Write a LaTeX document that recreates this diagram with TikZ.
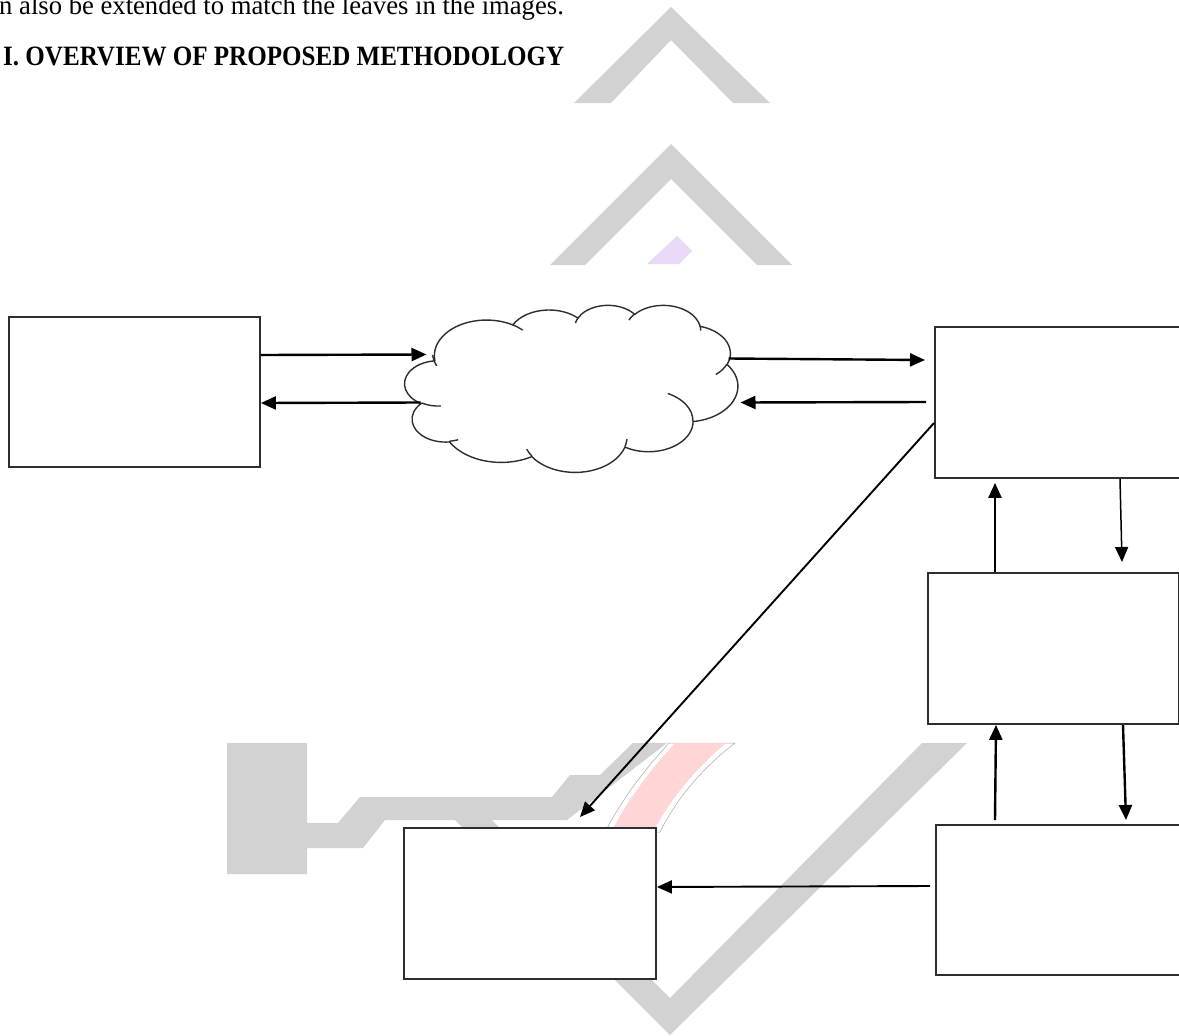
\documentclass[tikz,border=0pt]{standalone}
\usepackage{fontspec}
\setmainfont{Liberation Serif}
\usetikzlibrary{arrows.meta,calc}
\begin{document}
\begin{tikzpicture}[x=1pt,y=-1pt,
  blk/.style={draw=ink,line width=1.9pt,fill=white,inner sep=0pt,anchor=north west},
  flow/.style={line width=2.4pt,-{Triangle[length=15pt,width=13pt]}},
  thin flow/.style={flow,line width=1.9pt},
  carc/.style n args={4}{x radius=#1,y radius=#2,start angle={atan2(#1*sin(#3),#2*cos(#3))},
    delta angle={#4+Mod(atan2(#1*sin(#3+#4),#2*cos(#3+#4))-atan2(#1*sin(#3),#2*cos(#3))-#4+180,360)-180}}]
\definecolor{ink}{HTML}{2E2E2E}\definecolor{wm}{HTML}{D2D2D2}\definecolor{wmred}{HTML}{FFD5D5}\definecolor{wmvio}{HTML}{E8D9F8}
\clip (0,0) rectangle (1179,1036);\fill[white] (0,0) rectangle (1179,1036);
% page text above the figure
\node[anchor=base west,inner sep=0pt,font=\fontsize{27}{30}\selectfont,xscale=.987,transform shape] (prev) at (-1,14) {n also be extended to match the leaves in the images.};
\node[anchor=base west,inner sep=0pt,font=\bfseries\fontsize{28}{30}\selectfont,xscale=.895,transform shape] (head) at (3,65) {I. OVERVIEW OF PROPOSED METHODOLOGY};
% watermark
\fill[wm] (574,103)--(671,7)--(770,103)--(733,103)--(671,40)--(611,103)--cycle;
\fill[wm] (550,265)--(671,144)--(792,265)--(757,265)--(671,179)--(585,265)--cycle;
\fill[wmvio] (677,236)--(692,251)--(679,264)--(647,264)--cycle;
\fill[wm] (227,743)--(307,743)--(307,823)--(338,823)--(360,797)--(552,797)--(570,775)--(600,775)--(633,743)--(667,743)--(567,820)--(385,820)--(363,848)--(307,848)--(307,874)--(227,874)--cycle;
\draw[wm!80!black,line width=.5pt,fill=white] (669,743) .. controls (640,775) and (622,800) .. (605,832)--(660,832) .. controls (676,800) and (700,770) .. (735,743)--cycle;
\fill[wmred] (675,743) .. controls (646,775) and (628,800) .. (611,832)--(653,832) .. controls (670,800) and (694,770) .. (726,743)--cycle;
\fill[wm] (455,820)--(670,1035)--(967,743)--(922,743)--(670,998)--(492,820)--cycle;
% blocks
\node[blk,minimum width=251pt,minimum height=150pt] (client) at (8,316) {};
\node[inner sep=0pt,minimum width=333pt,minimum height=167pt] (net) at (571.5,388.5) {};
\begin{scope}[shift={(net.north west)},xscale=.7708,yscale=.3866,draw=ink,line width=1.4pt]
\draw[fill=white] (39,143.7) \foreach \rx/\ry/\sa/\da in {67.53/91.90/-190.4875/123.7805,53.33/72.67/-144.1024/89.9452,43.65/59.45/-145.8079/99.7230,48.57/65.95/-130.9861/117.2417,53.33/72.73/-78.7089/109.0269,67.75/92.20/-46.2673/130.2690,57.85/78.67/0.6250/114.0333,67.52/92.15/22.4516/115.1726,77.20/105.43/66.2426/75.7110,43.60/59.18/-274.9421/146.7356,43.45/59.45/-246.8285/152.5189}{ arc[carc={\rx}{\ry}{\sa}{\da}] } -- cycle;
\foreach \x/\y/\rx/\ry/\sa/\da in {46.93/261.77/43.45/59.45/86.7420/26.4295,69.28/348.99/43.60/59.18/73.6105/11.4475,164.78/390.90/67.52/92.15/137.6242/14.0811,288.27/347.51/67.52/92.15/6.4533/15.9984,341.29/229.54/57.85/78.67/-70.2924/70.9174,417.98/153.54/53.33/72.73/30.3180/27.7515,383.24/54.26/48.57/65.95/-13.7443/14.8589,290.78/39.52/48.57/65.95/-149.1815/18.1954,221.41/47.20/43.65/59.45/-163.4943/17.6864,140.00/51.92/67.53/91.90/-66.7070/12.3194,41.27/157.89/67.53/91.90/150.0863/23.6404}{\draw (\x,\y) arc[carc={\rx}{\ry}{\sa}{\da}];}
\end{scope}
\node[blk,minimum width=260pt,minimum height=151pt] (server) at (934,326) {};
\node[blk,minimum width=251pt,minimum height=151pt] (proc) at (927,572) {};
\node[blk,minimum width=260pt,minimum height=150pt] (store) at (935,824) {};
\node[blk,minimum width=252pt,minimum height=151pt] (result) at (403,827) {};
% connectors
\draw[flow] ($(client.north east)+(0,39)$) -- ($(net.center)+(-145,-34)$);
\draw[flow] ($(net.center)+(-151,14)$) -- ($(client.north east)+(0,87)$);
\draw[flow] ($(net.center)+(157,-30)$) -- ($(server.north west)+(-9,34)$);
\draw[flow] ($(server.north west)+(-8,76)$) -- ($(net.center)+(169,14)$);
\draw[thin flow] ($(server.north west)+(0,97)$) -- ($(result.north west)+(177,-10)$);
\draw[flow] ($(proc.north west)+(68,0)$) -- ($(server.south west)+(61,4)$);
\draw[thin flow,line width=1.5pt] ($(server.south west)+(186,0)$) -- ($(proc.north west)+(195,-10)$);
\draw[flow] ($(store.north west)+(60,-4)$) -- ($(proc.south west)+(69,0)$);
\draw[flow] ($(proc.south west)+(196,0)$) -- ($(store.north west)+(191,-4)$);
\draw[thin flow] ($(store.north west)+(-5,62)$) -- ($(result.north east)+(0,60)$);
\end{tikzpicture}
\end{document}
